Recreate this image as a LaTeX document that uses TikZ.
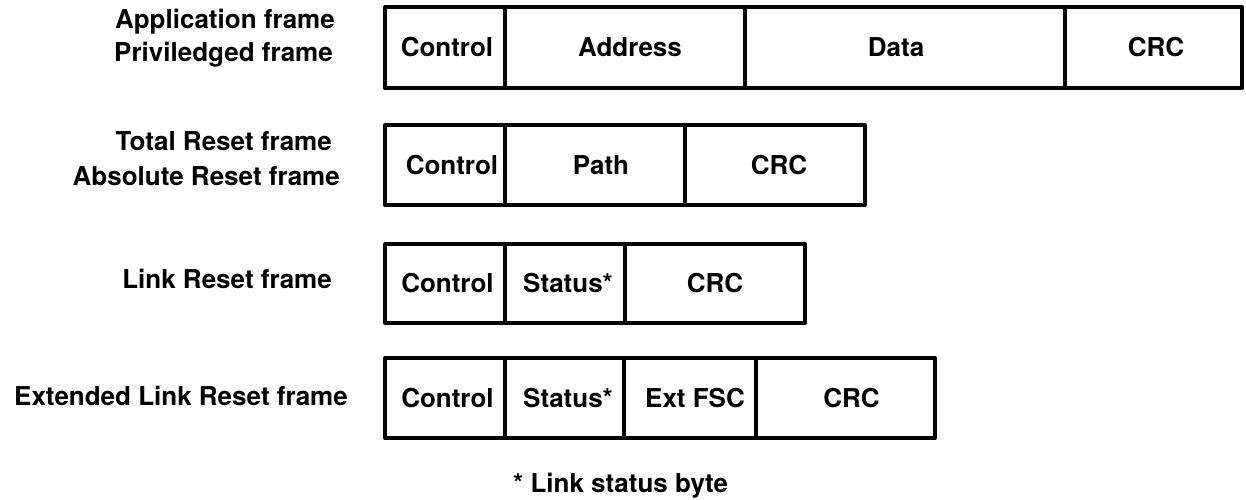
\documentclass[tikz,border=0pt]{standalone}
\usepackage{fontspec}
\setmainfont{TeX Gyre Heros}
\begin{document}
\begin{tikzpicture}[x=1pt,y=-1pt,
  frm/.style={draw=black,line width=4pt,line join=round},
  txt/.style={font=\fontsize{26}{30}\selectfont\bfseries,inner sep=0pt,text height=18.6pt,text depth=0pt,anchor=center},
  lbl/.style={txt,anchor=east},
  notetxt/.style={txt,anchor=west}]
\useasboundingbox (0,0) rectangle (1246,500);
% Row 1
\draw[frm] (385,7) rectangle (1242,88);
\draw[frm] (505,7) -- (505,88) (745,7) -- (745,88) (1065,7) -- (1065,88);
\node[txt] (r1a) at (447,47) {Control};
\node[txt] (r1b) at (630,47) {Address};
\node[txt] (r1c) at (896,47) {Data};
\node[txt] (r1d) at (1156,47) {CRC};
% Row 2
\draw[frm] (385,125) rectangle (865,205);
\draw[frm] (505,125) -- (505,205) (685,125) -- (685,205);
\node[txt] (r2a) at (452,165) {Control};
\node[txt] (r2b) at (601,165) {Path};
\node[txt] (r2c) at (779,165) {CRC};
% Row 3
\draw[frm] (385,244) rectangle (805,323);
\draw[frm] (505,244) -- (505,323) (625,244) -- (625,323);
\node[txt] (r3a) at (447.5,283.5) {Control};
\node[txt] (r3b) at (568,283.5) {Status*};
\node[txt] (r3c) at (715,283.5) {CRC};
% Row 4
\draw[frm] (385,358) rectangle (935,438);
\draw[frm] (505,358) -- (505,438) (624,358) -- (624,438) (756,358) -- (756,438);
\node[txt] (r4a) at (447.5,398) {Control};
\node[txt] (r4b) at (568,398) {Status*};
\node[txt] (r4c) at (695,398) {Ext FSC};
\node[txt] (r4d) at (851.5,398) {CRC};
% Labels
\node[lbl] (l1) at (335,19) {Application frame};
\node[lbl] (l2) at (333,52) {Priviledged frame};
\node[lbl] (l3) at (332,141) {Total Reset frame};
\node[lbl] (l4) at (340,176) {Absolute Reset frame};
\node[lbl] (l5) at (332,279) {Link Reset frame};
\node[lbl] (l6) at (348,396) {Extended Link Reset frame};
\node[notetxt] (note) at (513,483) {* Link status byte};
\end{tikzpicture}
\end{document}
